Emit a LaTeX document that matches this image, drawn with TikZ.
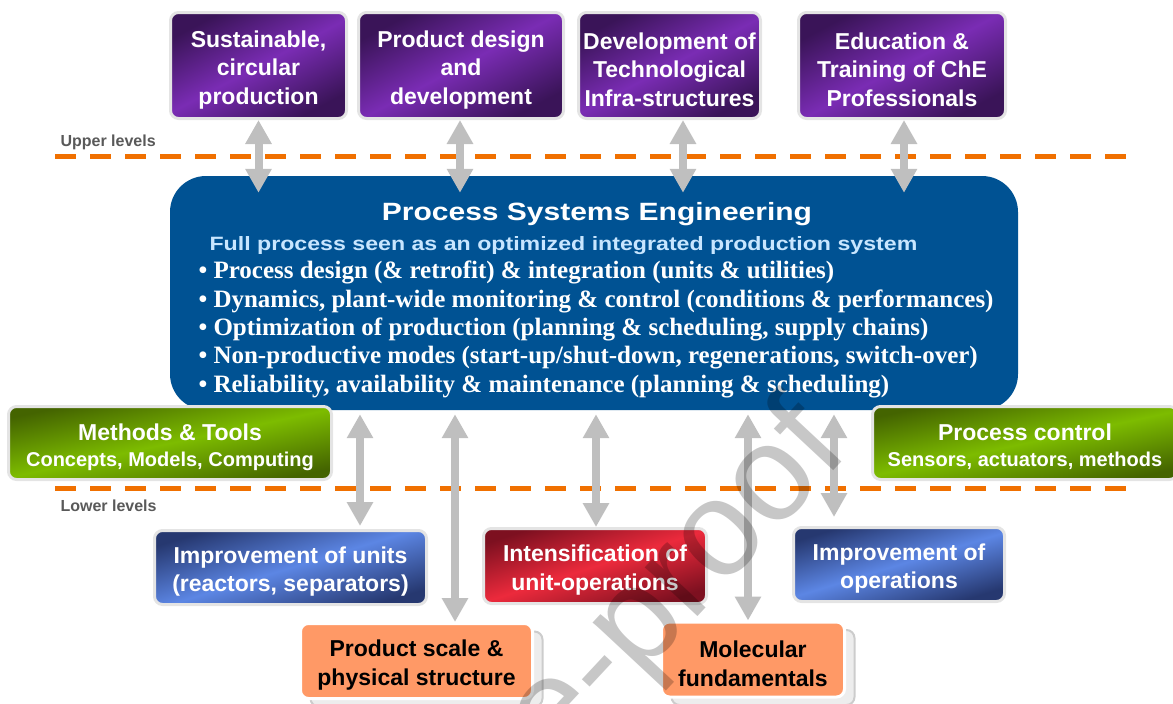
\documentclass[tikz,border=0pt]{standalone}
\usepackage{fontspec}
\setmainfont{Liberation Sans}
\newfontfamily\bulletfont{Liberation Serif}
\newfontfamily\psefont[FakeStretch=1.2]{Liberation Sans}
\usetikzlibrary{arrows.meta,shadows}

\definecolor{psblue}{RGB}{0,82,147}
\definecolor{psetext}{RGB}{200,230,255}
\definecolor{rimgray}{RGB}{228,228,228}
\definecolor{arrgray}{RGB}{191,191,191}
\definecolor{lvlorange}{RGB}{240,112,0}
\definecolor{lvlgray}{RGB}{89,89,89}
\definecolor{purpdark}{RGB}{58,20,88}
\definecolor{purplight}{RGB}{122,44,180}
\definecolor{grndark}{RGB}{68,100,0}
\definecolor{grnlight}{RGB}{125,188,0}
\definecolor{bluedark}{RGB}{38,56,112}
\definecolor{bluelight}{RGB}{92,134,228}
\definecolor{reddark}{RGB}{125,16,32}
\definecolor{redlight}{RGB}{236,42,60}
\definecolor{salmon}{RGB}{255,153,102}

\newcommand\boxstrut{\rule{0pt}{25pt}}

\begin{document}
\begin{tikzpicture}[x=1pt, y=-1pt,
  box/.style={rectangle, rounded corners=8pt, draw=rimgray, line width=3pt, inner sep=2pt,
              align=center, text=white, font=\bfseries\fontsize{23}{28.5}\selectfont},
  topbox/.style={box, top color=purpdark, bottom color=purpdark, middle color=purplight,
                 shading angle=28, minimum height=106pt},
  greenbox/.style={box, top color=grndark, bottom color=grndark, middle color=grnlight,
                   shading angle=12, minimum height=73pt, font=\bfseries\fontsize{23}{26}\selectfont},
  bluebox/.style={box, top color=bluedark, bottom color=bluedark, middle color=bluelight,
                  shading angle=17, minimum height=74pt},
  redbox/.style={box, top color=reddark, bottom color=reddark, middle color=redlight,
                 shading angle=18, minimum height=75pt},
  orangebox/.style={box, fill=salmon, draw=white, text=black, minimum height=75pt,
                    drop shadow={shadow xshift=10pt, shadow yshift=-8pt, opacity=1,
                                 fill=black!7, draw=black!20, line width=2pt}},
  biarrow/.style={draw=arrgray, line width=8pt, <->, >={Triangle[width=25pt,length=24pt]}},
  levelline/.style={draw=lvlorange, line width=5pt, dash pattern=on 21pt off 14pt},
  lvllabel/.style={anchor=base west, text=lvlgray, font=\bfseries\fontsize{16}{19}\selectfont},
  bullet/.style={anchor=base west, text=white, font=\bulletfont\bfseries\fontsize{25}{28}\selectfont}
  ]
\useasboundingbox (0,0) rectangle (1173,704);

% level lines
\draw[levelline] (55,156) -- (1130,156);
\draw[levelline] (55,488) -- (1130,488);
\node[lvllabel] (upperlbl) at (57,146) {Upper levels};
\node[lvllabel] (lowerlbl) at (57,511) {Lower levels};

% upper levels
\node[topbox, minimum width=176pt] (sust)  at (258.5,65.5) {\boxstrut Sustainable,\\circular\\production};
\node[topbox, minimum width=205pt] (prodd) at (461,65.5)   {\boxstrut Product design\\and\\development};
\node[topbox, minimum width=182pt] (infra) at (669.5,65.5) {\boxstrut Development of\\Technological\\Infra-structures};
\node[topbox, minimum width=207pt] (educ)  at (902,65.5)   {\boxstrut Education \&\\Training of ChE\\Professionals};

% PSE
\node[rectangle, rounded corners=36pt, fill=psblue, minimum width=848pt, minimum height=234pt] (pse) at (594,293) {};
\node[anchor=base, text=white, font=\psefont\bfseries\fontsize{25}{30}\selectfont] (psetitle) at (597,220.5) {Process Systems Engineering};
\node[anchor=base west, text=psetext, font=\psefont\bfseries\fontsize{19.3}{24}\selectfont] (psesub) at (206,250.5)
  {Full process seen as an optimized integrated production system};
\foreach \txt [count=\i] in {
  {Process design (\& retrofit) \& integration (units \& utilities)},
  {Dynamics, plant-wide monitoring \& control (conditions \& performances)},
  {Optimization of production (planning \& scheduling, supply chains)},
  {Non-productive modes (start-up/shut-down, regenerations, switch-over)},
  {Reliability, availability \& maintenance (planning \& scheduling)}}
  \node[bullet] (bul\i) at (195,{250.5+28.3*\i}) {• \txt};

% side boxes
\node[greenbox, minimum width=323pt] (methods) at (170,443)
  {\boxstrut Methods \& Tools\\{\fontsize{20}{26}\selectfont Concepts, Models, Computing}};
\node[greenbox, minimum width=305pt] (procctl) at (1025,443)
  {\boxstrut Process control\\{\fontsize{20}{26}\selectfont Sensors, actuators, methods}};

% lower levels
\node[bluebox, minimum width=272pt]  (units)  at (290.5,567.5) {\boxstrut Improvement of units\\(reactors, separators)};
\node[redbox, minimum width=223pt]   (intens) at (595,566)     {\boxstrut Intensification of\\unit-operations};
\node[bluebox, minimum width=211pt]  (impops) at (899,564.5)   {\boxstrut Improvement of\\operations};
\node[orangebox, minimum width=232pt] (prodscale) at (416.5,661) {\boxstrut Product scale \&\\physical structure};
\node[orangebox, minimum width=183pt] (molec)     at (753,659.5) {\boxstrut Molecular\\fundamentals};

% links
\draw[biarrow] (sust.south) -- ([yshift=-17pt]sust.south |- pse.north);
\draw[biarrow] ([xshift=-1pt]prodd.south) -- ([xshift=-1pt,yshift=-17pt]prodd.south |- pse.north);
\draw[biarrow] ([xshift=13.5pt]infra.south) -- ([xshift=13.5pt,yshift=-17pt]infra.south |- pse.north);
\draw[biarrow] ([xshift=2pt]educ.south) -- ([xshift=2pt,yshift=-17pt]educ.south |- pse.north);
\draw[biarrow] ([xshift=69.5pt,yshift=-4pt]units.north |- pse.south) -- ([xshift=69.5pt,yshift=3pt]units.north);
\draw[biarrow] ([xshift=38.5pt,yshift=-4pt]prodscale.north |- pse.south) -- ([xshift=38.5pt]prodscale.north);
\draw[biarrow] ([xshift=1pt,yshift=-4pt]intens.north |- pse.south) -- ([xshift=1pt]intens.north);
\draw[biarrow] ([xshift=-5pt,yshift=-4pt]molec.north |- pse.south) -- ([xshift=-5pt]molec.north);
\draw[biarrow] ([xshift=-65pt,yshift=-4pt]impops.north |- pse.south) -- ([xshift=-65pt,yshift=9pt]impops.north);

% watermark
\node[rotate=47, anchor=mid, text=black, text opacity=0.22, font=\fontsize{136}{136}\selectfont] (wmark) at (702,608) {e-proof};
\end{tikzpicture}
\end{document}
